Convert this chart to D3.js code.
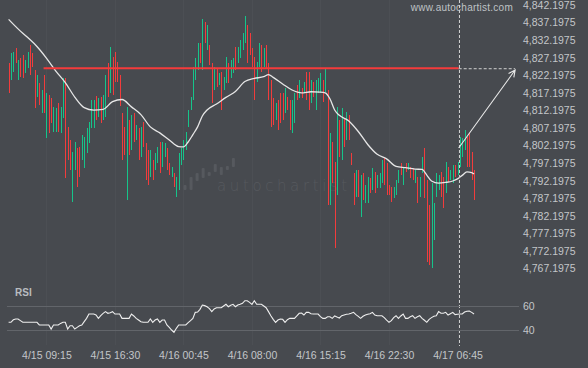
<!DOCTYPE html>
<html>
<head>
<meta charset="utf-8">
<script src="https://cdn.jsdelivr.net/npm/d3@7"></script>
<style>
  body { margin: 0; background: #474a4f; }
  svg { display: block; font-family: "Liberation Sans", Arial, sans-serif; }
</style>
</head>
<body>
<svg id="chart" width="588" height="368"></svg>
<script>
// 15 minute candles (bar index 0 = first candle)
const hi = [4825.7,4828.5,4828.8,4830.0,4826.6,4827.1,4828.0,4826.6,4828.8,4830.8,
  4828.5,4823.7,4822.3,4820.0,4818.0,4822.3,4817.2,4816.6,4815.7,4813.2,
  4812.9,4814.3,4813.2,4821.4,4821.4,4807.5,4803.8,4800.4,4803.2,4801.5,
  4801.8,4805.2,4804.6,4807.2,4808.9,4815.2,4815.2,4816.3,4815.7,4816.0,
  4816.6,4822.3,4825.7,4830.3,4827.4,4828.8,4826.0,4822.3,4811.5,4807.5,
  4813.2,4809.5,4810.9,4811.5,4808.0,4807.2,4807.5,4808.9,4802.9,4800.9,
  4800.9,4798.1,4800.1,4801.8,4803.2,4803.2,4802.9,4801.5,4797.2,4796.1,
  4794.4,4793.2,4800.1,4801.5,4803.8,4806.1,4812.3,4816.0,4824.6,4827.1,
  4831.4,4831.4,4838.2,4837.4,4836.5,4830.8,4825.7,4824.6,4824.3,4822.9,
  4823.1,4821.7,4827.4,4825.7,4826.6,4827.1,4830.3,4830.3,4832.2,4834.2,
  4839.1,4836.5,4834.2,4830.0,4827.4,4826.0,4831.4,4830.8,4830.0,4830.8,
  4825.7,4820.9,4815.7,4814.3,4815.2,4817.2,4817.2,4818.6,4816.0,4815.2,
  4815.2,4817.2,4819.4,4820.9,4818.6,4820.3,4823.1,4823.1,4820.9,4820.3,
  4820.9,4821.4,4822.9,4820.9,4824.0,4818.0,4805.8,4803.2,4797.5,4813.2,
  4809.5,4812.9,4810.0,4811.8,4810.9,4800.1,4794.4,4795.2,4795.2,4793.8,
  4794.4,4791.0,4793.2,4793.0,4795.8,4794.7,4793.8,4794.4,4798.1,4798.7,
  4797.2,4791.0,4790.4,4790.4,4792.4,4795.2,4797.2,4796.1,4797.2,4797.2,
  4796.1,4795.8,4795.2,4793.2,4793.2,4798.9,4801.5,4792.4,4785.3,4791.5,
  4785.8,4794.4,4793.8,4794.7,4793.2,4797.5,4796.1,4795.2,4796.7,4796.7,
  4797.5,4804.6,4804.3,4806.6,4804.6,4805.8,4800.4,4795.2];
const lo = [4817.2,4820.9,4823.1,4825.7,4820.9,4821.7,4821.4,4822.9,4824.3,4822.3,
  4824.6,4812.9,4816.0,4813.7,4811.5,4811.5,4804.3,4805.8,4808.6,4806.1,
  4806.1,4806.1,4805.8,4810.0,4793.0,4798.1,4795.2,4786.1,4795.2,4790.4,
  4793.2,4798.1,4795.8,4800.1,4802.9,4807.2,4807.2,4809.5,4810.3,4808.6,
  4809.5,4810.3,4816.0,4817.2,4816.6,4820.3,4820.3,4813.5,4798.1,4799.5,
  4786.7,4799.5,4800.9,4803.2,4803.8,4798.1,4798.9,4801.8,4792.4,4791.0,
  4793.2,4792.4,4795.2,4797.2,4794.4,4796.1,4798.9,4795.2,4793.8,4793.2,
  4790.4,4787.5,4789.5,4796.7,4798.1,4800.9,4807.5,4812.3,4815.2,4820.9,
  4823.7,4825.7,4823.7,4831.4,4829.4,4825.1,4814.3,4818.0,4818.9,4819.4,
  4812.3,4818.0,4820.0,4820.0,4821.4,4822.9,4823.7,4825.7,4827.1,4829.4,
  4831.4,4825.7,4828.0,4824.6,4815.2,4820.3,4824.6,4823.1,4824.6,4824.3,
  4815.2,4807.5,4808.0,4809.5,4806.6,4808.6,4809.5,4811.5,4812.3,4806.6,
  4805.8,4808.6,4815.2,4815.7,4815.7,4817.2,4815.2,4812.3,4814.3,4816.0,
  4812.3,4817.2,4817.2,4814.6,4817.4,4785.3,4785.3,4791.5,4773.0,4788.1,
  4798.9,4798.1,4801.8,4803.8,4803.8,4796.7,4785.3,4787.5,4787.5,4781.9,
  4786.7,4785.8,4785.8,4788.7,4789.5,4788.7,4790.1,4790.1,4791.5,4791.0,
  4788.1,4788.1,4786.1,4787.3,4788.1,4791.5,4793.8,4791.0,4794.7,4795.2,
  4793.0,4792.4,4791.5,4785.8,4787.5,4794.4,4787.3,4769.1,4768.2,4767.3,
  4775.3,4787.5,4789.5,4787.5,4784.4,4788.7,4791.8,4792.4,4791.5,4793.2,
  4793.8,4796.1,4798.9,4800.9,4796.1,4796.1,4792.4,4786.7];
// u = bullish candle, d = bearish candle
const dirs = "duududduud" + "ddudududdu" + "uduuddduud" + "duuuuuudud" + "uududddddd" +
  "ududududdd" + "uduuduuddu" + "duuuuuuuuu" + "udududdudu" + "duuduuduuu" +
  "udddduudud" + "dddudddudd" + "uudududdud" + "uuudududdu" + "dududddudu" +
  "duududuuud" + "ddduuududu" + "dduduudddu" + "uuudduduud" + "uuuudddd";

// moving average, sampled at these bar indices
const maIdx = [0,4,8,12,16,20,24,28,32,36,40,44,48,52,56,60,64,68,72,74,
  76,78,80,82,84,88,92,96,100,104,108,110,112,116,120,124,128,132,134,136,
  138,140,144,148,152,156,160,164,168,172,175,177,179,182,185,188,190,192,194,196,197];
const maVal = [4838.1,4835.4,4833.0,4830.4,4827.1,4823.4,4820.1,4816.0,4813.0,4812.3,
  4812.5,4814.7,4815.3,4813.2,4811.0,4807.5,4805.8,4803.8,4801.9,4801.8,
  4803.2,4805.3,4807.5,4810.6,4812.3,4814.0,4815.9,4817.6,4820.4,4821.3,
  4821.8,4822.4,4821.6,4819.7,4818.0,4817.2,4817.5,4817.4,4817.2,4815.5,
  4812.3,4810.8,4809.2,4806.2,4802.5,4799.7,4798.4,4796.3,4795.9,4795.5,
  4795.4,4793.8,4792.1,4791.5,4791.7,4792.1,4792.7,4793.7,4794.7,4794.5,4794.1];

// RSI, one value per bar
const rsi = [46.4,46.4,48.5,49.2,49.2,47.8,46.4,46.4,46.4,46.4,
  46.4,46.4,46.4,44.2,44.2,44.2,44.2,44.2,40.8,44.2,
  44.2,44.2,45.5,46.4,46.4,40.8,43.6,43.6,40.8,42.2,
  43.6,44.2,47,49.7,53.3,53.3,53.3,52.5,49.7,51.9,
  53.9,55.3,53.9,54.4,55.3,53.3,53.3,53.3,49.7,49.7,
  49.7,49.7,53.3,51.7,49.7,48.3,46.9,46.4,46.4,46.4,
  49.2,46.4,48.3,49.2,46.4,48.3,48.3,44.2,42.2,40,
  38.1,41.4,44.2,44.2,44.2,44.2,46.1,47.8,49.7,54.7,
  55,57.2,60.8,60.3,59.4,57.8,55.3,57.5,58.6,58.6,
  58.6,60,61.4,59.4,60.6,61.4,59.4,60.8,61.4,62.2,
  64.4,64.4,63,61.4,64.4,61.4,61.4,61.4,60,58.6,
  55.3,51.9,48.9,46.4,48.3,49.2,48.9,46.4,48.6,49.7,
  49.7,49.7,51.7,53.9,54.2,52.5,54.7,54.7,53.6,53.3,
  53.3,53.3,51.1,49.7,49.7,51.1,51.1,49.7,51.7,50.8,
  50,51.9,52.5,53.1,53.3,53.9,54.7,52.8,51.4,49.7,
  51.4,52.5,53.1,53.6,54.7,52.5,51.9,51.9,51.9,50.3,
  48.3,46.4,47.8,50.3,51.9,49.7,51.7,53.3,49.7,49.7,
  51.1,51.9,49.7,51.1,51.9,49.7,48.1,46.4,48.9,50.3,
  51.4,51.9,55.3,53.9,53.9,54.7,52.5,53.6,54.7,52.8,
  53.1,53.3,53.3,55,55.6,55.8,54.7,53.3];

const priceTicks = [4842.1975,4837.1975,4832.1975,4827.1975,4822.1975,4817.1975,4812.1975,
  4807.1975,4802.1975,4797.1975,4792.1975,4787.1975,4782.1975,4777.1975,4772.1975,4767.1975];
const rsiTicks = [60, 40];
const timeIdx = [16, 45, 74, 103, 132, 161, 190];
const timeLabels = ["4/15 09:15","4/15 16:30","4/16 00:45","4/16 08:00","4/16 15:15","4/16 22:30","4/17 06:45"];

// pattern: resistance level, breakout marker and projection arrow
const level = 4824.2, levelFrom = 14.8, nowIdx = 190.5, targetIdx = 214.4;
const arrowFrom = 4801.5, arrowTo = 4823.7;

// watermark logo bars [top, bottom] in px
const logoBars = [[185,190],[177,190],[173,181],[168,178],[172,176],[164,172],[167,175],[166,170],[158,167]];

const W = 588, H = 368;
const bg = "#474a4f", green = "#16c48a", red = "#f23c3c", txt = "#c3c6c9";

const svg = d3.select("#chart");
svg.append("rect").attr("width", W).attr("height", H).attr("fill", bg);

const x = d3.scaleLinear().domain([0, 190]).range([8.6, 457.5]);
const y = d3.scaleLinear().domain([4767.1975, 4842.1975]).range([268.5, 5]);
const yr = d3.scaleLinear().domain([40, 60]).range([330, 306]);

// faint grid
svg.append("g").selectAll("line").data(timeIdx).join("line")
  .attr("x1", d => Math.round(x(d)) + 0.5).attr("x2", d => Math.round(x(d)) + 0.5)
  .attr("y1", 0).attr("y2", 345)
  .attr("stroke", "#4c4f54").attr("stroke-width", 1);

// watermark
svg.append("g").selectAll("rect").data(logoBars).join("rect")
  .attr("x", (d, i) => 183.5 + i * 6.05).attr("y", d => d[0])
  .attr("width", 3).attr("height", d => d[1] - d[0]).attr("rx", 1)
  .attr("fill", "#56595e");
svg.append("text").attr("x", 217).attr("y", 191)
  .attr("fill", "#56595e").style("font-size", "15px").style("letter-spacing", "3.6px")
  .style("font-family", "'DejaVu Sans', sans-serif").style("font-weight", "300")
  .text("autochartist");
svg.append("text").attr("x", 513).attr("y", 11).attr("text-anchor", "end")
  .attr("fill", "#bfc2c5").style("font-size", "10px").style("letter-spacing", "0.25px")
  .text("www.autochartist.com");

// candles
svg.append("g").attr("shape-rendering", "crispEdges").selectAll("rect").data(hi).join("rect")
  .attr("x", (d, i) => Math.round(x(i)))
  .attr("y", d => y(d))
  .attr("width", 1)
  .attr("height", (d, i) => Math.max(1, y(lo[i]) - y(d)))
  .attr("fill", (d, i) => dirs[i] === "u" ? green : red);

// moving average
const ma = maIdx.map((d, i) => [d, maVal[i]]);
svg.append("path").datum(ma)
  .attr("d", d3.line().x(d => x(d[0])).y(d => y(d[1])).curve(d3.curveMonotoneX))
  .attr("fill", "none").attr("stroke", "#e6e6e6").attr("stroke-width", 1.3);

// resistance level
svg.append("line")
  .attr("x1", x(levelFrom)).attr("x2", x(nowIdx)).attr("y1", y(level)).attr("y2", y(level))
  .attr("stroke", "#f53b3b").attr("stroke-width", 2.2);
svg.append("line")
  .attr("x1", x(nowIdx)).attr("x2", x(targetIdx)).attr("y1", y(level) + 0.5).attr("y2", y(level) + 0.5)
  .attr("stroke", "#d2d2d2").attr("stroke-width", 1).attr("stroke-dasharray", "3,2");
svg.append("line")
  .attr("x1", Math.round(x(nowIdx)) + 0.5).attr("x2", Math.round(x(nowIdx)) + 0.5)
  .attr("y1", 0).attr("y2", 346)
  .attr("stroke", "#cfcfcf").attr("stroke-width", 1).attr("stroke-dasharray", "3,2");

// projection arrow
const ax0 = x(nowIdx), ay0 = y(arrowFrom), ax1 = x(targetIdx), ay1 = y(arrowTo);
const ang = Math.atan2(ay1 - ay0, ax1 - ax0);
const head = 7.5, spread = 0.45;
svg.append("path")
  .attr("d", `M${ax0},${ay0}L${ax1},${ay1}` +
    `M${ax1 - head * Math.cos(ang - spread)},${ay1 - head * Math.sin(ang - spread)}L${ax1},${ay1}` +
    `L${ax1 - head * Math.cos(ang + spread)},${ay1 - head * Math.sin(ang + spread)}`)
  .attr("fill", "none").attr("stroke", "#e8e8e8").attr("stroke-width", 1.1);

// price axis
svg.append("g").attr("transform", "translate(523,0)")
  .call(d3.axisRight(y).tickValues(priceTicks).tickFormat(d3.format(",.4f")).tickSize(0).tickPadding(0))
  .call(g => g.select(".domain").remove())
  .call(g => g.selectAll("text").attr("fill", txt).style("font-size", "10.5px")
    .style("font-family", "'Liberation Sans', Arial, sans-serif"));

// RSI panel
svg.append("text").attr("x", 15).attr("y", 295.5).attr("fill", "#b9bcc0")
  .style("font-size", "10px").style("font-weight", "bold").text("RSI");
svg.append("g").selectAll("line").data(rsiTicks).join("line")
  .attr("x1", 7).attr("x2", 519).attr("y1", d => yr(d) + 0.5).attr("y2", d => yr(d) + 0.5)
  .attr("stroke", "#62656a").attr("stroke-width", 1);
svg.append("path").datum(rsi)
  .attr("d", d3.line().x((d, i) => x(i)).y(d => yr(d)))
  .attr("fill", "none").attr("stroke", "#eeeeee").attr("stroke-width", 1.1);
svg.append("g").attr("transform", "translate(523,0)")
  .call(d3.axisRight(yr).tickValues(rsiTicks).tickSize(0).tickPadding(0))
  .call(g => g.select(".domain").remove())
  .call(g => g.selectAll("text").attr("fill", txt).style("font-size", "10.5px")
    .style("font-family", "'Liberation Sans', Arial, sans-serif"));

// time axis
svg.append("g").attr("transform", "translate(0,352)")
  .call(d3.axisBottom(x).tickValues(timeIdx).tickFormat((d, i) => timeLabels[i]).tickSize(0).tickPadding(0))
  .call(g => g.select(".domain").remove())
  .call(g => g.selectAll("text").attr("fill", txt).style("font-size", "10.5px")
    .style("font-family", "'Liberation Sans', Arial, sans-serif"));
</script>
</body>
</html>
